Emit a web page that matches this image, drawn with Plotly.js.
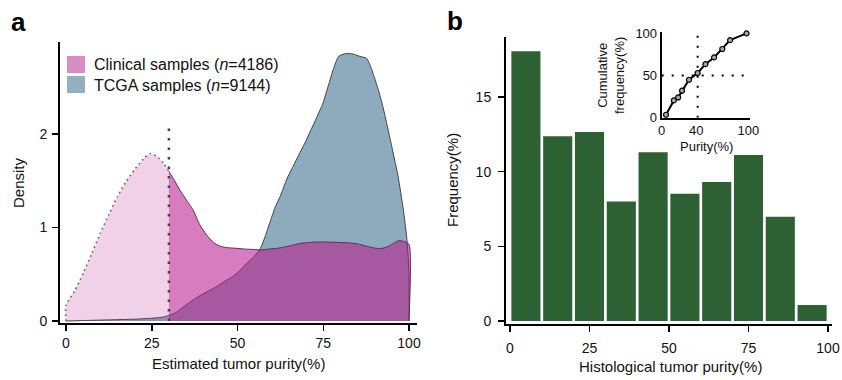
<!DOCTYPE html>
<html>
<head>
<meta charset="utf-8">
<script src="https://cdn.plot.ly/plotly-3.0.1.min.js"></script>
<style>html,body{margin:0;padding:0;background:#fff;}#chart{width:842px;height:380px;}</style>
</head>
<body>
<div id="chart"></div>
<script>
// ---- Panel a: density of estimated tumor purity ----
const clinicalX = [0,0,2.5,5,7.5,10,12.5,15,17.5,20,22.5,24.5,26.5,28.4,30,31.5,33.2,35,37,39,41,43,45,47,49,52,55,57,59,61,63.4,66,68.2,71,73,76,80,82.8,85,87.6,90,91.5,93.5,95.5,97,98.5,100,100];
const clinicalY = [0,0.17,0.32,0.51,0.72,0.94,1.14,1.33,1.49,1.62,1.73,1.79,1.76,1.69,1.60,1.51,1.40,1.30,1.19,1.03,0.92,0.84,0.80,0.785,0.78,0.77,0.765,0.76,0.77,0.775,0.79,0.81,0.83,0.84,0.845,0.845,0.84,0.835,0.825,0.80,0.78,0.775,0.79,0.83,0.86,0.85,0.82,0];
const tcgaX = [0,5,10,15,20,25,28,30,32,34.2,36.5,39,41.5,44,46.5,48.8,51,52.5,54.6,56.6,58,59.5,61,62.4,64.4,66,68.2,70,71.5,73,74.9,76.5,78,79.5,81.5,83.7,85.7,87.6,88.5,89.5,91,92.4,94,95.3,96.8,98.3,99.4,100,100];
const tcgaY = [0,0.005,0.01,0.015,0.02,0.03,0.04,0.06,0.09,0.15,0.21,0.27,0.32,0.37,0.43,0.48,0.55,0.61,0.68,0.77,0.9,1.06,1.22,1.33,1.52,1.64,1.80,1.93,2.05,2.17,2.33,2.52,2.70,2.83,2.86,2.855,2.83,2.81,2.75,2.65,2.48,2.29,2.03,1.81,1.55,1.20,0.87,0.5,0];
const cutoff = 30;
const cutoffTop = 2.12;
const densityTicks = [0,1,2];
const purityTicks = [0,25,50,75,100];
const legendLabels = ["Clinical samples (<i>n</i>=4186)", "TCGA samples (<i>n</i>=9144)"];

// ---- Panel b: histogram of histological tumor purity ----
const binStart = [0,10,20,30,40,50,60,70,80,90];
const frequency = [18.07,12.37,12.66,8.01,11.3,8.52,9.31,11.12,6.98,1.07];
const freqTicks = [0,5,10,15];

// ---- Inset: cumulative frequency ----
const cumPurity = [5,14,19,23.5,31.5,41.5,50.5,60.5,70,79,98];
const cumFreq = [3.5,20.5,24,32,45,53,63.5,71.5,81.5,92,100];
const medianPurity = 41.5;
const halfLine = 50;
const insetXTicks = [0,40,100];
const insetYTicks = [0,50,100];

const W = 842, H = 380;
const px = v => v / W;
const py = v => 1 - v / H;
const FONT = "Liberation Sans, Arial, Helvetica, sans-serif";

const leftX = [], leftY = [], rightX = [], rightY = [];
clinicalX.forEach((x, i) => {
  if (x <= cutoff) { leftX.push(x); leftY.push(clinicalY[i]); }
  if (x >= cutoff) { rightX.push(x); rightY.push(clinicalY[i]); }
});

const traces = [
  {x: tcgaX, y: tcgaY, type: 'scatter', mode: 'lines', fill: 'tozeroy',
   fillcolor: '#8eabbd', line: {color: '#3c424c', width: 1, shape: 'spline', smoothing: 0.6}, xaxis: 'x', yaxis: 'y', hoverinfo: 'skip'},
  {x: leftX, y: leftY, type: 'scatter', mode: 'lines', fill: 'tozeroy',
   fillcolor: 'rgba(184,25,140,0.2)', line: {color: '#666', width: 1.6, dash: '1.6px,3.4px', shape: 'spline', smoothing: 0.6}, xaxis: 'x', yaxis: 'y', hoverinfo: 'skip'},
  {x: rightX, y: rightY, type: 'scatter', mode: 'lines', fill: 'tozeroy',
   fillcolor: 'rgba(184,25,140,0.57)', line: {color: '#573355', width: 1, shape: 'spline', smoothing: 0.6}, xaxis: 'x', yaxis: 'y', hoverinfo: 'skip'},
  {x: [cutoff, cutoff], y: [0, cutoffTop], type: 'scatter', mode: 'lines',
   line: {color: '#444', width: 2.5, dash: '2.5px,7px'}, xaxis: 'x', yaxis: 'y', hoverinfo: 'skip'},
  {x: binStart.map(b => b + 5), y: frequency, type: 'bar', width: 9.15,
   marker: {color: '#2d6134', line: {width: 0}}, xaxis: 'x2', yaxis: 'y2', hoverinfo: 'skip'},
  {x: [medianPurity, medianPurity], y: [0, 102], type: 'scatter', mode: 'lines',
   line: {color: '#000', width: 2, dash: '2px,8px'}, xaxis: 'x3', yaxis: 'y3', hoverinfo: 'skip'},
  {x: [0, 102], y: [halfLine, halfLine], type: 'scatter', mode: 'lines',
   line: {color: '#000', width: 2, dash: '2px,8px'}, xaxis: 'x3', yaxis: 'y3', hoverinfo: 'skip'},
  {x: cumPurity, y: cumFreq, type: 'scatter', mode: 'lines+markers',
   line: {color: '#000', width: 2},
   marker: {symbol: 'circle', size: 5, color: '#a8a8a8', line: {color: '#000', width: 1.2}},
   xaxis: 'x3', yaxis: 'y3', hoverinfo: 'skip', cliponaxis: false}
];

const axBase = {showline: true, linecolor: '#000', linewidth: 2, ticks: 'outside', ticklen: 6,
  tickwidth: 1.5, tickcolor: '#000', showgrid: false, zeroline: false, fixedrange: true,
  tickfont: {family: FONT, size: 14, color: '#111'}};

const layout = {
  width: W, height: H,
  margin: {l: 0, r: 0, t: 0, b: 0},
  paper_bgcolor: '#fff', plot_bgcolor: 'rgba(0,0,0,0)',
  showlegend: false,
  font: {family: FONT, color: '#111'},
  xaxis: Object.assign({}, axBase, {domain: [px(60), px(417)], range: [-1.75, 102.33], anchor: 'y', tickvals: purityTicks}),
  yaxis: Object.assign({}, axBase, {domain: [py(323), py(42)], range: [-0.021, 2.984], anchor: 'x', tickvals: densityTicks, ticklabelstandoff: 2}),
  xaxis2: Object.assign({}, axBase, {domain: [px(506), px(832)], range: [-1.26, 101.26], anchor: 'y2', tickvals: purityTicks, ticklabelstandoff: 4}),
  yaxis2: Object.assign({}, axBase, {domain: [py(324), py(37)], range: [-0.2, 19.02], anchor: 'x2', tickvals: freqTicks, ticklabelstandoff: 4}),
  xaxis3: Object.assign({}, axBase, {domain: [px(661.7), px(750)], range: [0, 102], anchor: 'y3', tickvals: insetXTicks, ticks: '', tickfont: {family: FONT, size: 13, color: '#111'}}),
  yaxis3: Object.assign({}, axBase, {domain: [py(117.7), py(31.7)], range: [0, 102], anchor: 'x3', tickvals: insetYTicks, ticks: '', tickfont: {family: FONT, size: 13, color: '#111'}}),
  shapes: [
    {type: 'rect', xref: 'paper', yref: 'paper', x0: px(67), x1: px(85), y0: py(73), y1: py(56), fillcolor: '#da8cc4', line: {width: 0}},
    {type: 'rect', xref: 'paper', yref: 'paper', x0: px(67), x1: px(85), y0: py(93), y1: py(76), fillcolor: '#93afc0', line: {width: 0}}
  ],
  annotations: [
    {text: '<b>a</b>', x: px(9), y: py(22), xref: 'paper', yref: 'paper', xanchor: 'left', yanchor: 'middle', showarrow: false, font: {family: FONT, size: 26, color: '#000'}},
    {text: '<b>b</b>', x: px(445), y: py(21), xref: 'paper', yref: 'paper', xanchor: 'left', yanchor: 'middle', showarrow: false, font: {family: FONT, size: 26, color: '#000'}},
    {text: legendLabels[0], x: px(92), y: py(65), xref: 'paper', yref: 'paper', xanchor: 'left', yanchor: 'middle', showarrow: false, font: {family: FONT, size: 16, color: '#111'}},
    {text: legendLabels[1], x: px(92), y: py(85), xref: 'paper', yref: 'paper', xanchor: 'left', yanchor: 'middle', showarrow: false, font: {family: FONT, size: 16, color: '#111'}},
    {text: 'Density', x: px(18), y: py(183), xref: 'paper', yref: 'paper', xanchor: 'center', yanchor: 'middle', textangle: -90, showarrow: false, font: {family: FONT, size: 15, color: '#111'}},
    {text: 'Estimated tumor purity(%)', x: px(238), y: py(363), xref: 'paper', yref: 'paper', xanchor: 'center', yanchor: 'middle', showarrow: false, font: {family: FONT, size: 15, color: '#111'}},
    {text: 'Frequency(%)', x: px(453), y: py(180), xref: 'paper', yref: 'paper', xanchor: 'center', yanchor: 'middle', textangle: -90, showarrow: false, font: {family: FONT, size: 15, color: '#111'}},
    {text: 'Histological tumor purity(%)', x: px(670), y: py(366), xref: 'paper', yref: 'paper', xanchor: 'center', yanchor: 'middle', showarrow: false, font: {family: FONT, size: 15, color: '#111'}},
    {text: 'Cumulative<br>frequency(%)', x: px(611), y: py(76), xref: 'paper', yref: 'paper', xanchor: 'center', yanchor: 'middle', textangle: -90, showarrow: false, font: {family: FONT, size: 13, color: '#111'}},
    {text: 'Purity(%)', x: px(706), y: py(146), xref: 'paper', yref: 'paper', xanchor: 'center', yanchor: 'middle', showarrow: false, font: {family: FONT, size: 13, color: '#111'}}
  ]
};

Plotly.newPlot('chart', traces, layout, {displayModeBar: false, staticPlot: true});
</script>
</body>
</html>
